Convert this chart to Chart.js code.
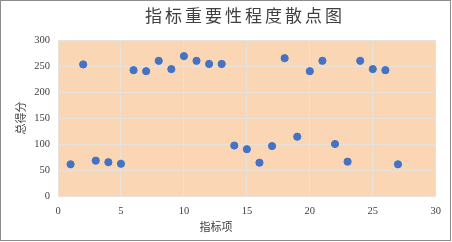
<!DOCTYPE html>
<html>
<head>
<meta charset="utf-8">
<script src="https://cdn.jsdelivr.net/npm/chart.js@4.4.0/dist/chart.umd.min.js"></script>
<style>
  body { margin: 0; background: #fff; }
  #wrap { width: 451px; height: 241px; border: 1px solid #8c8c8c; box-sizing: border-box; }
</style>
</head>
<body>
<div id="wrap"><canvas id="myChart" width="449" height="239"></canvas></div>
<script>
// indicator index (x) and total score (y)
const itemNo = [1, 2, 3, 4, 5, 6, 7, 8, 9, 10, 11, 12, 13, 14, 15, 16, 17, 18, 19, 20, 21, 22, 23, 24, 25, 26, 27];
const scores = [61, 253, 68, 65, 62, 242, 240, 260, 244, 269, 260, 254, 254, 97, 90, 64, 96, 265, 114, 240, 260, 100, 66, 260, 244, 242, 61];
const xTicks = [0, 5, 10, 15, 20, 25, 30];
const yTicks = [0, 50, 100, 150, 200, 250, 300];

const serif = "'Liberation Serif', 'Noto Sans CJK SC', serif";
const gridColor = '#e8e2dc';
const textColor = '#404040';

const plotBg = {
  id: 'plotBg',
  beforeDraw(chart) {
    const a = chart.chartArea;
    const c = chart.ctx;
    c.save();
    c.fillStyle = '#fbd6b4';
    c.fillRect(a.left, a.top, a.right - a.left, a.bottom - a.top);
    c.restore();
  }
};

// chart title and axis titles placed where the original has them
const titles = {
  id: 'titles',
  afterDraw(chart) {
    const c = chart.ctx;
    c.save();
    c.fillStyle = textColor;
    c.textAlign = 'center';
    c.textBaseline = 'middle';
    c.font = "17px " + serif;
    c.letterSpacing = '3px';
    c.fillText('指标重要性程度散点图', 244, 17);
    c.letterSpacing = '0px';
    c.font = "11px " + serif;
    c.fillText('指标项', 215, 227);
    c.translate(21, 117);
    c.rotate(-Math.PI / 2);
    c.fillText('总得分', 0, 0);
    c.restore();
  }
};

const ctx = document.getElementById('myChart');
new Chart(ctx, {
  type: 'scatter',
  data: {
    datasets: [{
      data: itemNo.map((x, i) => ({ x: x, y: scores[i] })),
      backgroundColor: '#4472c4',
      borderColor: '#4472c4',
      pointRadius: 3.6,
    }],
  },
  options: {
    responsive: false,
    animation: false,
    layout: { padding: { left: 0, right: 11, top: 39, bottom: 0 } },
    plugins: {
      legend: { display: false },
      tooltip: { enabled: false },
    },
    scales: {
      x: {
        type: 'linear',
        min: xTicks[0],
        max: xTicks[xTicks.length - 1],
        afterBuildTicks: (s) => { s.ticks = xTicks.map(v => ({ value: v })); },
        afterFit: (s) => { s.height = 44; },
        grid: { color: gridColor, lineWidth: 1, drawTicks: false },
        border: { display: false },
        ticks: { color: textColor, padding: 9, font: { family: serif, size: 10.5 } },
      },
      y: {
        min: yTicks[0],
        max: yTicks[yTicks.length - 1],
        afterBuildTicks: (s) => { s.ticks = yTicks.map(v => ({ value: v })); },
        afterFit: (s) => { s.width = 57; },
        grid: { color: gridColor, lineWidth: 1, drawTicks: false },
        border: { display: false },
        ticks: { color: textColor, padding: 8, font: { family: serif, size: 10.5 } },
      },
    },
  },
  plugins: [plotBg, titles],
});
</script>
</body>
</html>
